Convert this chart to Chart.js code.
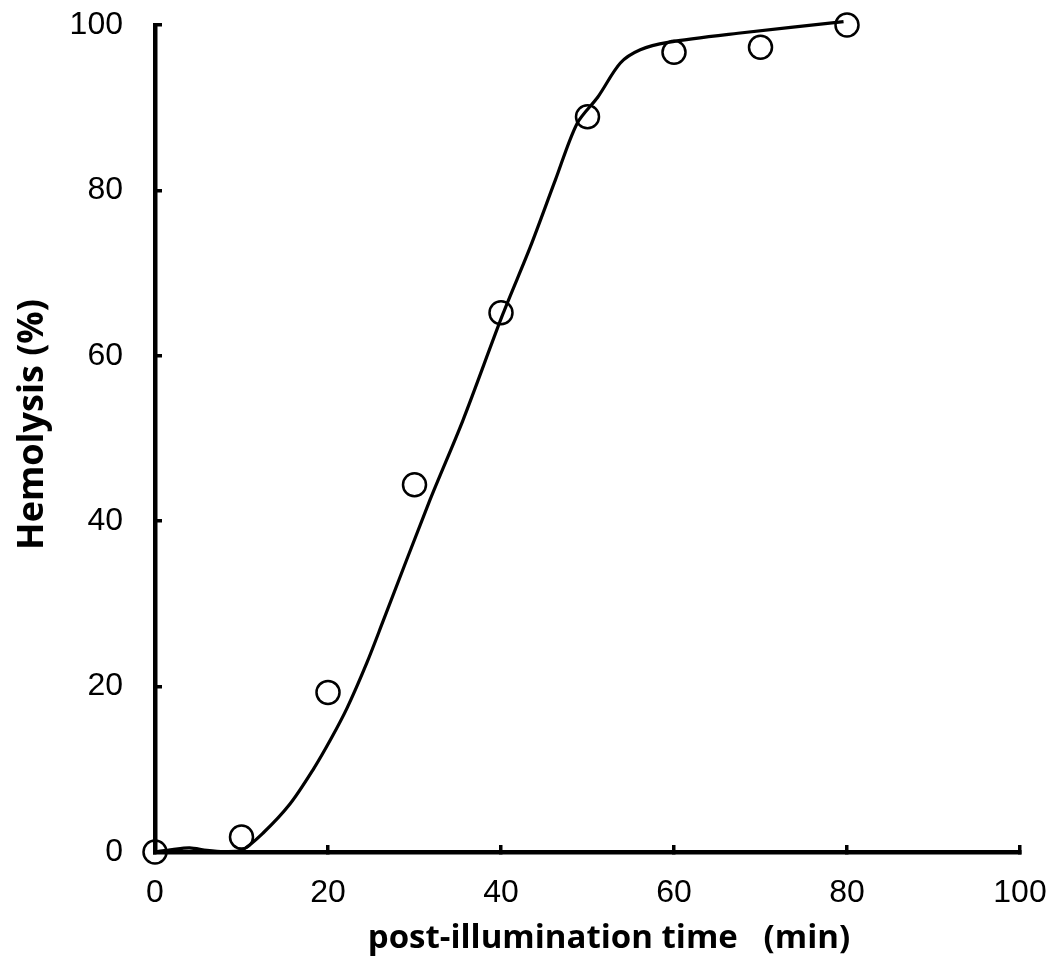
<!DOCTYPE html>
<html>
<head>
<meta charset="utf-8">
<script src="https://cdn.jsdelivr.net/npm/chart.js@4.4.1/dist/chart.umd.min.js"></script>
<style>
  html, body { margin: 0; padding: 0; background: #fff; }
  #wrap { width: 1056px; height: 969px; }
</style>
</head>
<body>
<div id="wrap"><canvas id="hemolysisChart" width="1056" height="969"></canvas></div>
<script>
// measured points (min, %)
const timeMin = [0, 10, 20, 30, 40, 50, 60, 70, 80];
const hemolysis = [0, 1.8, 19.3, 44.4, 65.2, 88.9, 96.7, 97.3, 100];

// smooth curve
const curveTime = [0, 2, 4, 6, 8, 10, 12.5, 15.6, 18.3, 20.3, 22.2, 24.5, 26.4, 31.8, 35.6, 40.2, 43.4, 46.3, 48.8, 51.2, 53.8, 56.1, 59.3, 67.4, 79.6];
const curveHemolysis = [0, 0.3, 0.5, 0.2, 0.05, 0.2, 2.3, 5.8, 10.0, 13.6, 17.4, 22.9, 28.0, 42.6, 52.2, 65, 73.2, 81.3, 88.1, 91.3, 95.4, 97.0, 97.9, 99.0, 100.4];

const xTicks = [0, 20, 40, 60, 80, 100];
const yTicks = [0, 20, 40, 60, 80, 100];

const tickFont = { family: 'Liberation Sans', size: 32 };

const ctx = document.getElementById('hemolysisChart').getContext('2d');
new Chart(ctx, {
    type: 'scatter',
    data: {
        datasets: [
            {
                type: 'scatter',
                data: timeMin.map((t, i) => ({ x: t, y: hemolysis[i] })),
                pointStyle: 'circle',
                pointRadius: 11.5,
                pointBorderWidth: 2.5,
                borderColor: '#000',
                backgroundColor: 'rgba(0,0,0,0)',
                clip: false,
                order: 0
            },
            {
                type: 'line',
                data: curveTime.map((t, i) => ({ x: t, y: curveHemolysis[i] })),
                borderColor: '#000',
                borderWidth: 3.2,
                pointRadius: 0,
                tension: 0.3,
                fill: false,
                clip: { left: 0, top: 6, right: 0, bottom: 0 },
                order: 1
            }
        ]
    },
    options: {
        responsive: false,
        animation: false,
        layout: { padding: { left: 10, right: 36, top: 25, bottom: 10 } },
        plugins: { legend: { display: false }, tooltip: { enabled: false } },
        scales: {
            x: {
                type: 'linear',
                min: 0, max: 100,
                afterBuildTicks: (scale) => { scale.ticks = xTicks.map(v => ({ value: v })); },
                afterFit: (scale) => {
                    scale.height = 107;
                    scale.paddingLeft = 0;
                    scale.paddingRight = 0;
                },
                border: { display: true, color: '#000', width: 4.5 },
                grid: { drawOnChartArea: false, color: '#000', lineWidth: 3.5, tickLength: -7 },
                ticks: { color: '#000', font: tickFont, padding: 29 },
                title: {
                    display: true,
                    text: '     post-illumination time   (min)',
                    color: '#000',
                    font: { family: 'Open Sans', size: 33, weight: 'bold' },
                    padding: { top: 0, bottom: 1 }
                }
            },
            y: {
                type: 'linear',
                min: 0, max: 100,
                afterBuildTicks: (scale) => { scale.ticks = yTicks.map(v => ({ value: v })); },
                afterFit: (scale) => {
                    scale.width = 145;
                    scale.paddingTop = 0;
                    scale.paddingBottom = 0;
                },
                border: { display: true, color: '#000', width: 4.5 },
                grid: { drawOnChartArea: false, color: '#000', lineWidth: 3.5, tickLength: -7 },
                ticks: { color: '#000', font: tickFont, padding: 39 },
                title: {
                    display: true,
                    text: '   Hemolysis (%)',
                    color: '#000',
                    font: { family: 'Open Sans', size: 36, weight: 'bold' },
                    padding: { top: 1, bottom: 0 }
                }
            }
        }
    }
});
</script>
</body>
</html>
